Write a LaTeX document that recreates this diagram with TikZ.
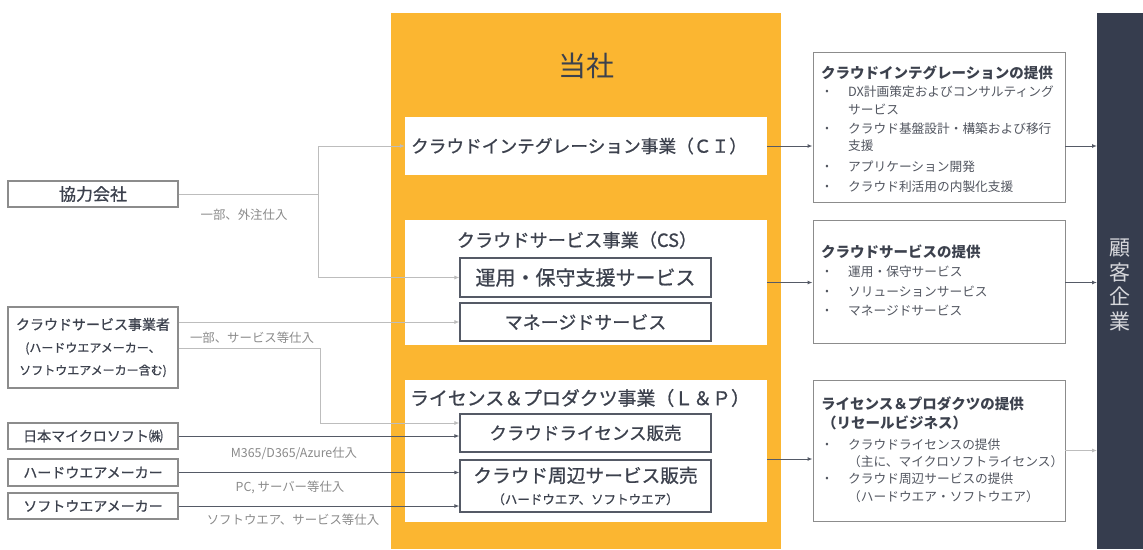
\documentclass[tikz,border=0pt]{standalone}
\usepackage{fontspec}
\setmainfont{Noto Sans CJK JP}
\newfontfamily\medfont{Noto Sans CJK JP}[FakeBold=0.8]
\usetikzlibrary{arrows.meta}
\definecolor{gold}{HTML}{FBB631}
\definecolor{navy}{HTML}{363D4E}
\definecolor{txt}{HTML}{3C414D}
\definecolor{soft}{HTML}{525660}
\definecolor{lbl}{HTML}{8A8A8A}
\definecolor{lightline}{HTML}{BDBDBD}
\definecolor{darkline}{HTML}{555A66}
\definecolor{boxline}{HTML}{8C8C8C}
\tikzset{
  srcbox/.style={draw=boxline, line width=1.2pt, fill=white, minimum width=170pt, inner sep=0pt, text=txt, align=center},
  segbox/.style={fill=white, inner sep=0pt, minimum width=362pt},
  subbox/.style={draw=darkline, line width=1.2pt, fill=white, minimum width=251pt, inner sep=0pt, text=txt, align=center},
  outbox/.style={draw=boxline, line width=0.9pt, fill=white, minimum width=252pt, inner sep=0pt},
  ttl/.style={anchor=west, inner sep=0pt, text=txt, font=\bfseries\fontsize{14.5}{16}\selectfont},
  itm/.style={anchor=west, inner sep=0pt, text=soft, font=\fontsize{12.7}{14}\selectfont},
  bul/.style={anchor=center, inner sep=0pt, text=soft, font=\fontsize{10}{12}\selectfont},
  elbl/.style={inner sep=0pt, text=lbl, font=\fontsize{12.4}{14}\selectfont},
  lite/.style={draw=lightline, line width=0.8pt},
  dark/.style={draw=darkline, line width=1pt},
  tip/.style={-{Latex[length=5pt,width=4pt]}}
}
\begin{document}
\begin{tikzpicture}[x=1pt,y=-1pt]
\useasboundingbox (0,0) rectangle (1143,549);
% yellow company area
\fill[gold] (391,13) rectangle (781,549);
\node[text=txt, font=\fontsize{28}{30}\selectfont, inner sep=0pt] (tosha) at (586,66) {当社};
% segment boxes
\node[segbox, minimum height=58pt] (ci) at (586,146) {};
\node[text=txt, font=\medfont\fontsize{17.7}{19}\selectfont, inner sep=0pt] (citxt) at (579,146) {クラウドインテグレーション事業（ＣＩ）};
\node[segbox, minimum height=125pt] (cs) at (586,282.5) {};
\node[text=txt, font=\medfont\fontsize{18.2}{19}\selectfont, inner sep=0pt] (cstxt) at (577,240) {クラウドサービス事業（CS）};
\node[subbox, minimum height=39pt, font=\medfont\fontsize{20}{21}\selectfont] (unyo) at (585.5,277.5) {運用・保守支援サービス};
\node[subbox, minimum height=38pt, font=\medfont\fontsize{18}{20}\selectfont] (managed) at (585.5,322) {マネージドサービス};
\node[segbox, minimum height=142pt] (lp) at (586,451) {};
\node[text=txt, font=\medfont\fontsize{18.9}{20}\selectfont, inner sep=0pt] (lptxt) at (580,398) {ライセンス＆プロダクツ事業（Ｌ＆Ｐ）};
\node[subbox, minimum height=38pt, font=\medfont\fontsize{17.5}{19}\selectfont] (license) at (585.5,433) {クラウドライセンス販売};
\node[subbox, minimum height=52pt, font=\medfont\fontsize{18.7}{21.5}\selectfont] (periph) at (585.5,486) {クラウド周辺サービス販売\\{\fontsize{12.5}{21.5}\selectfont （ハードウエア、ソフトウエア）}};
% source boxes (left)
\node[srcbox, minimum height=26pt, font=\medfont\fontsize{17}{19}\selectfont] (kyoryoku) at (93,194) {協力会社};
\node[srcbox, minimum height=81pt, font=\medfont\fontsize{12}{22.5}\selectfont] (csp) at (93,347.5) {{\fontsize{14}{22.5}\selectfont クラウドサービス事業者}\\(ハードウエアメーカー、\\ソフトウエアメーカー含む)};
\node[srcbox, minimum height=26pt, font=\medfont\fontsize{14}{16}\selectfont] (ms) at (93,436) {日本マイクロソフト㈱};
\node[srcbox, minimum height=27pt, font=\medfont\fontsize{14}{16}\selectfont] (hw) at (93,472.5) {ハードウエアメーカー};
\node[srcbox, minimum height=26pt, font=\medfont\fontsize{14}{16}\selectfont] (sw) at (93,506) {ソフトウエアメーカー};
% customer bar
\fill[navy] (1097,13) rectangle (1143,549);
\node[text=white!80!navy, font=\fontsize{21}{24.5}\selectfont, align=center, inner sep=0pt] (kokyaku) at (1120,285) {顧\\客\\企\\業};
\coordinate (bar) at (1097,0);
% output boxes (right)
\node[outbox, minimum height=150pt] (r1) at (939,127) {};
\node[outbox, minimum height=123pt] (r2) at (939,281.5) {};
\node[outbox, minimum height=141pt] (r3) at (939,450.5) {};
\node[ttl] (r1t) at (821,73) {クラウドインテグレーションの提供};
\node[bul] (r1b1) at (827,92) {•};
\node[itm] (r1i1) at (848,92) {DX計画策定およびコンサルティング};
\node[itm] (r1i1b) at (848,110) {サービス};
\node[bul] (r1b2) at (827,129) {•};
\node[itm] (r1i2) at (848,129) {クラウド基盤設計・構築および移行};
\node[itm] (r1i2b) at (848,146) {支援};
\node[bul] (r1b3) at (827,167) {•};
\node[itm] (r1i3) at (848,167) {アプリケーション開発};
\node[bul] (r1b4) at (827,187) {•};
\node[itm] (r1i4) at (848,187) {クラウド利活用の内製化支援};
\node[ttl] (r2t) at (821,252) {クラウドサービスの提供};
\node[bul] (r2b1) at (827,272) {•};
\node[itm] (r2i1) at (848,272) {運用・保守サービス};
\node[bul] (r2b2) at (827,292) {•};
\node[itm] (r2i2) at (848,292) {ソリューションサービス};
\node[bul] (r2b3) at (827,311) {•};
\node[itm] (r2i3) at (848,311) {マネージドサービス};
\node[ttl] (r3t) at (821,404) {ライセンス＆プロダクツの提供};
\node[ttl] (r3t2) at (822,423) {（リセールビジネス）};
\node[bul] (r3b1) at (827,445) {•};
\node[itm] (r3i1) at (848,445) {クラウドライセンスの提供};
\node[itm] (r3i1b) at (848,462) {（主に、マイクロソフトライセンス）};
\node[bul] (r3b2) at (827,479) {•};
\node[itm] (r3i2) at (848,479) {クラウド周辺サービスの提供};
\node[itm] (r3i2b) at (848,497) {（ハードウエア・ソフトウエア）};
% connectors: suppliers -> company
\coordinate (j1) at (318,194);
\draw[lite] (kyoryoku.east) -- (j1);
\draw[lite,tip] (j1) |- (ci.west);
\draw[lite,tip] (j1) |- (unyo.west);
\node[elbl] (l1) at (244,215) {一部、外注仕入};
\draw[lite,tip] (csp.east |- managed.west) -- (managed.west);
\coordinate (j2) at (320,348);
\coordinate (j2e) at ([yshift=10pt]license.west);
\draw[lite,tip] (csp.east |- j2) -- (j2) |- (j2e);
\node[elbl] (l2) at (252,338) {一部、サービス等仕入};
\draw[dark,tip] (ms.east) -- (ms.east -| license.west);
\node[elbl] (l3) at (294,453) {M365/D365/Azure仕入};
\draw[dark,tip] (hw.east) -- (hw.east -| periph.west);
\node[elbl] (l4) at (290,487) {PC, サーバー等仕入};
\draw[dark,tip] (sw.east) -- (sw.east -| periph.west);
\node[elbl] (l5) at (293,520) {ソフトウエア、サービス等仕入};
% connectors: company -> offerings -> customers
\draw[dark,tip] (ci.east) -- (ci.east -| r1.west);
\draw[dark,tip] (r1.east |- ci.east) -- (ci.east -| bar);
\draw[dark,tip] (cs.east) -- (cs.east -| r2.west);
\draw[dark,tip] (r2.east |- cs.east) -- (cs.east -| bar);
\coordinate (lpo) at ([yshift=-8pt]lp.east);
\draw[dark,tip] (lpo) -- (lpo -| r3.west);
\coordinate (r3o) at (r3.east);
\draw[lite,tip] (r3o) -- (r3o -| bar);
\end{tikzpicture}
\end{document}
